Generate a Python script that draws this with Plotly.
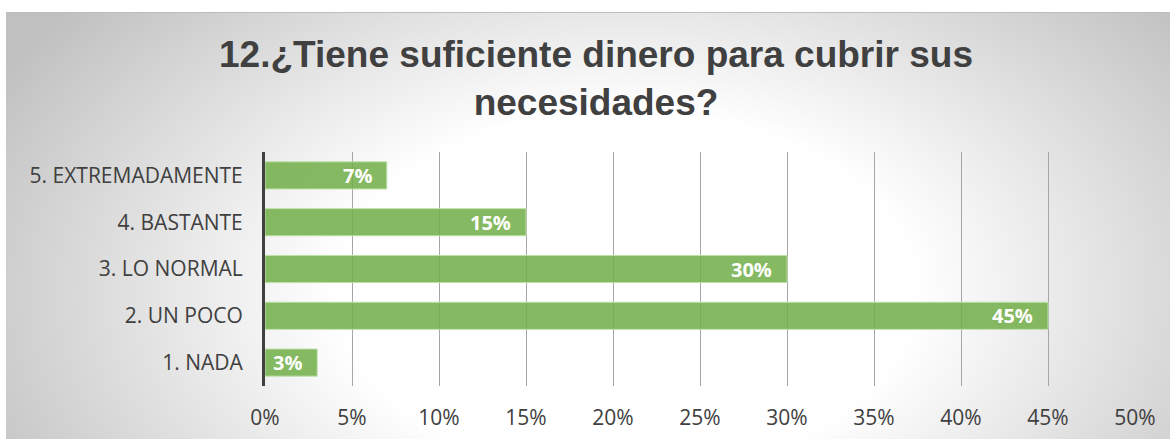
import base64
import plotly.graph_objects as go

# Survey answers (bottom to top) and share of respondents
categories = ["1. NADA", "2. UN POCO", "3. LO NORMAL", "4. BASTANTE", "5. EXTREMADAMENTE"]
shares = [0.03, 0.45, 0.30, 0.15, 0.07]
x_ticks = [0, 0.05, 0.10, 0.15, 0.20, 0.25, 0.30, 0.35, 0.40, 0.45, 0.50]
x_tick_labels = ["0%", "5%", "10%", "15%", "20%", "25%", "30%", "35%", "40%", "45%", "50%"]

W, H = 1170, 439
ML, MR, MT, MB = 265, 35, 152, 53
PW, PH = W - ML - MR, H - MT - MB

# Full-page backdrop: white frame at top/left, radial grey-to-white chart area
svg = f"""<svg xmlns='http://www.w3.org/2000/svg' width='{W}' height='{H}' viewBox='0 0 {W} {H}' preserveAspectRatio='none'>
<defs><radialGradient id='g' gradientUnits='userSpaceOnUse' cx='626' cy='292' r='720'
 gradientTransform='translate(626 292) scale(1 0.62) translate(-626 -292)'>
<stop offset='0' stop-color='#ffffff'/><stop offset='0.4' stop-color='#ffffff'/>
<stop offset='1' stop-color='#c0c0c0'/></radialGradient></defs>
<rect width='{W}' height='{H}' fill='#ffffff'/>
<rect x='6' y='12' width='{W - 6}' height='{H - 12}' fill='url(#g)'/>
<line x1='6' y1='12.5' x2='{W}' y2='12.5' stroke='#bdbdbd' stroke-width='1'/>
</svg>"""
bg_uri = "data:image/svg+xml;base64," + base64.b64encode(svg.encode()).decode()

fig = go.Figure()
fig.add_trace(go.Bar(
    y=categories,
    x=shares,
    orientation="h",
    marker=dict(color="rgba(112,173,71,0.85)", line=dict(color="rgba(190,225,170,1)", width=1)),
    width=0.58,
    hoverinfo="skip",
))

annotations = [
    dict(x=v, y=c, xref="x", yref="y", text=f"<b>{round(v * 100)}%</b>",
         showarrow=False, xanchor="right", xshift=-13,
         font=dict(family="Open Sans", size=20, color="white"))
    for c, v in zip(categories, shares)
]

fig.update_layout(
    width=W, height=H,
    margin=dict(l=ML, r=MR, t=MT, b=MB, pad=0, autoexpand=False),
    paper_bgcolor="#c8c8c8",
    plot_bgcolor="rgba(0,0,0,0)",
    showlegend=False,
    title=dict(
        text="12.¿Tiene suficiente dinero para cubrir sus<br>necesidades?",
        x=596 / W, xref="container", xanchor="center",
        y=1 - 67 / H, yref="container", yanchor="top",
        font=dict(family="Liberation Sans", size=37, color="#404040", weight="bold"),
    ),
    xaxis=dict(
        range=[0, 0.5], tickvals=x_ticks, ticktext=x_tick_labels,
        showgrid=True, gridcolor="#a6a6a6", gridwidth=1,
        zeroline=False, showline=False, ticks="",
        ticklabelstandoff=17, automargin=False,
        tickfont=dict(family="Open Sans", size=21, color="#404040"),
        fixedrange=True,
    ),
    yaxis=dict(
        categoryorder="array", categoryarray=categories,
        range=[-0.5, 4.5],
        showline=True, linecolor="#404040", linewidth=3,
        showgrid=False, zeroline=False, ticks="",
        ticklabelstandoff=15, automargin=False,
        tickfont=dict(family="Open Sans", size=21, color="#404040"),
        fixedrange=True,
    ),
    annotations=annotations,
    images=[dict(
        source=bg_uri, xref="paper", yref="paper",
        x=-ML / PW, y=(H - MB) / PH,
        sizex=W / PW, sizey=H / PH,
        xanchor="left", yanchor="top", sizing="stretch", layer="below",
    )],
)

fig.write_html("out.html")
